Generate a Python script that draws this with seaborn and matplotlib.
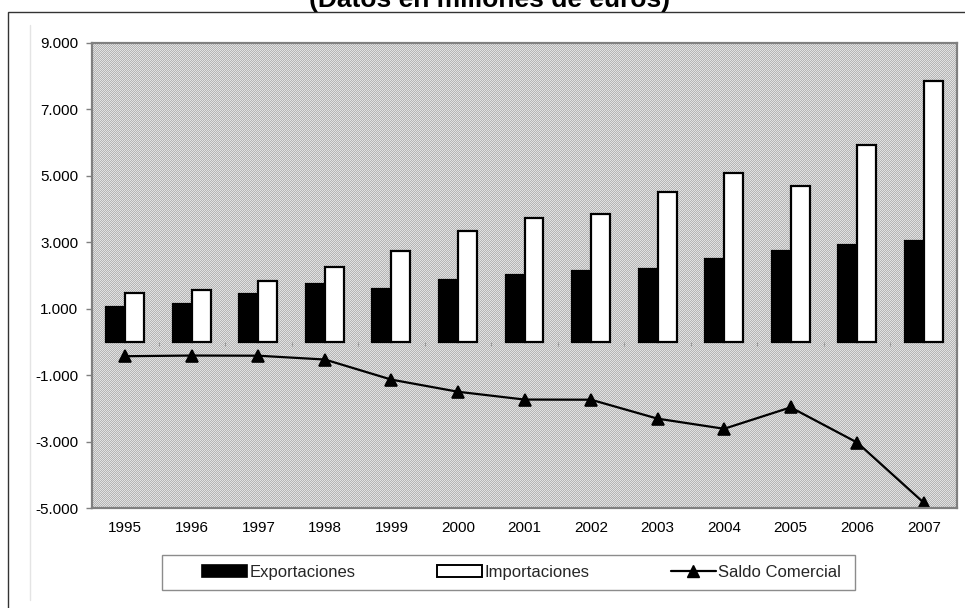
import numpy as np
import pandas as pd
import matplotlib
matplotlib.use("Agg")
import matplotlib.pyplot as plt
import seaborn as sns
from matplotlib.patches import Patch, Rectangle
from matplotlib.lines import Line2D

# ---- data (millones de euros) ----
years = ["1995", "1996", "1997", "1998", "1999", "2000", "2001",
         "2002", "2003", "2004", "2005", "2006", "2007"]
exportaciones = [1060, 1150, 1430, 1740, 1600, 1850, 2010,
                 2150, 2210, 2500, 2750, 2930, 3030]
importaciones = [1480, 1550, 1840, 2250, 2730, 3330, 3730,
                 3860, 4500, 5100, 4690, 5940, 7850]
saldo = [-430, -410, -415, -530, -1135, -1500, -1735,
         -1740, -2310, -2615, -1970, -3030, -4840]
series_names = ["Exportaciones", "Importaciones", "Saldo Comercial"]
title_text = "(Datos en millones de euros)"
y_ticks = [-5000, -3000, -1000, 1000, 3000, 5000, 7000, 9000]

df = pd.DataFrame({
    "Año": years * 2,
    "valor": exportaciones + importaciones,
    "serie": [series_names[0]] * len(years) + [series_names[1]] * len(years),
})

sns.set_theme(style="white")
plt.rcParams["font.family"] = ["Liberation Sans", "DejaVu Sans"]

W, H = 965, 608
AX_L, AX_R, AX_T, AX_B = 92, 957, 43, 508
fig = plt.figure(figsize=(W / 100, H / 100), dpi=100)
ax = fig.add_axes([AX_L / W, 1 - AX_B / H, (AX_R - AX_L) / W, (AX_B - AX_T) / H])
ax.set_facecolor("#c8c8c8")

sns.barplot(data=df, x="Año", y="valor", hue="serie",
            palette=["black", "white"], edgecolor="black", linewidth=1.6,
            width=0.57, ax=ax, legend=False, zorder=2)
sns.pointplot(x=years, y=saldo, color="black", markers="^", markersize=9,
              linewidth=1.6, ax=ax, zorder=3)

# dithered background texture (pixel checkerboard)
ny, nx = AX_B - AX_T, AX_R - AX_L
yy, xx = np.mgrid[0:ny, 0:nx]
checker = np.where((xx + yy) % 2 == 0, 0.71, 0.88)
ax.imshow(checker, extent=(-0.5, len(years) - 0.5, -5000, 9000),
          aspect="auto", cmap="gray", vmin=0, vmax=1,
          interpolation="nearest", zorder=0)
ax.set_ylim(-5000, 9000)
ax.set_xlim(-0.5, len(years) - 0.5)

ax.set_yticks(y_ticks)
ax.set_yticklabels([f"{v:,.0f}".replace(",", ".") for v in y_ticks])
ax.set_xlabel("")
ax.set_ylabel("")
ax.tick_params(axis="y", which="major", left=True, length=4, width=1,
               color="#808080", labelsize=11, labelcolor="black", pad=6)
ax.tick_params(axis="x", which="major", bottom=False, length=0,
               labelsize=11, labelcolor="black", pad=9)
for s in ax.spines.values():
    s.set_visible(True)
    s.set_color("#808080")
    s.set_linewidth(1.6)
    s.set_zorder(5)

# small category separators on the zero line
zero_frac = (0 - (-5000)) / (9000 - (-5000))
sec = ax.secondary_xaxis(zero_frac)
sec.set_xticks(np.arange(-0.5, len(years), 1.0))
sec.tick_params(axis="x", direction="out", length=3, width=0.8,
                color="#9a9a9a", labelbottom=False, labeltop=False)
for s in sec.spines.values():
    s.set_visible(False)

# title (partly cut at the top edge, as in the source)
fig.text(490 / W, 1 - 7 / H, title_text, ha="center", va="baseline",
         fontsize=19, fontweight="bold", color="black")

# outer frame and inner faint border
fig.add_artist(Rectangle((8 / W, -0.1), 1.2, 1.1 - 12 / H,
                         transform=fig.transFigure, fill=False,
                         edgecolor="#333333", linewidth=1.0))
fig.add_artist(Line2D([30 / W, 30 / W], [1 - 25 / H, 1 - 600 / H],
                      transform=fig.transFigure, color="#e4e4e4", linewidth=1.0))

# legend box
fig.add_artist(Rectangle((162 / W, 1 - 590 / H), (855 - 162) / W, 35 / H,
                         transform=fig.transFigure, facecolor="white",
                         edgecolor="#8c8c8c", linewidth=1.0))
handles = [
    Patch(facecolor="black", edgecolor="black", linewidth=1.2),
    Patch(facecolor="white", edgecolor="black", linewidth=1.4),
    Line2D([], [], color="black", marker="^", markersize=9, linewidth=1.6),
]
fig.legend(handles, series_names, loc="center",
           bbox_to_anchor=(521.5 / W, 1 - 572.5 / H), ncol=3, frameon=False,
           fontsize=12, handlelength=2.7, handletextpad=0.12,
           columnspacing=4.9, borderaxespad=0)

fig.savefig("out.png", dpi=100)
